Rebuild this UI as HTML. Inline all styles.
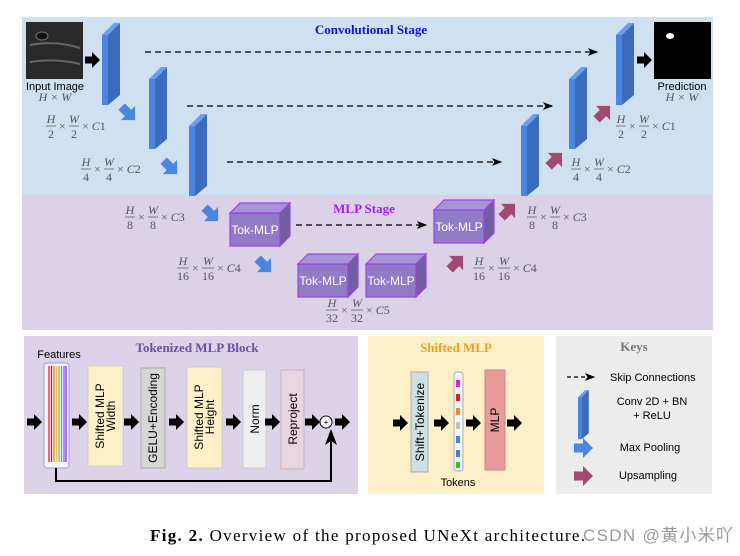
<!DOCTYPE html>
<html><head><meta charset="utf-8"><style>
body{margin:0;background:#fff}
svg{display:block}
.m{font-family:"Liberation Serif",serif;font-size:12px;fill:#555}
.i{font-style:italic}
.s{font-family:"Liberation Sans",sans-serif}
</style></head><body>
<svg width="740" height="556" viewBox="0 0 740 556" xmlns="http://www.w3.org/2000/svg">
<defs>
<g id="bar"><polygon points="0,12 6,12 6,82 0,82" fill="#4a86e0"/><polygon points="6,12 18,0 18,72 6,82" fill="#3b6bbb"/><polygon points="0,12 12,0 18,0 6,12" fill="#6a9ef0"/></g>
<polygon id="ar" points="-9,-4.5 0,-4.5 0,-10 10,0 0,10 0,4.5 -9,4.5"/>
<polygon id="ars" points="-7,-3.5 0,-3.5 0,-8 8,0 0,8 0,3.5 -7,3.5"/>
<g id="tok"><polygon points="0,10 50,10 50,43 0,43" fill="#8f7cc4" stroke="#a040f0" stroke-width="1.2"/><polygon points="50,10 60,0 60,33 50,43" fill="#6f5f9c" stroke="#a040f0" stroke-width="1.2"/><polygon points="0,10 10,0 60,0 50,10" fill="#a595d4" stroke="#a040f0" stroke-width="1.2"/><text x="25" y="31" font-size="12" fill="#fff" text-anchor="middle" class="s">Tok-MLP</text></g>
<marker id="mk" markerWidth="8" markerHeight="6" refX="7" refY="3" orient="auto"><path d="M0,0 L8,3 L0,6 L2,3z" fill="#000"/></marker>
</defs>
<rect x="22" y="17" width="691" height="178" fill="#cfe0f1"/>
<rect x="22" y="195" width="691" height="135" fill="#dbd2e8"/>
<text x="371" y="34" text-anchor="middle" font-family="Liberation Serif" font-weight="bold" font-size="13" fill="#1010e0">Convolutional Stage</text>
<text x="364" y="213" text-anchor="middle" font-family="Liberation Serif" font-weight="bold" font-size="13" fill="#a020f0">MLP Stage</text>
<rect x="26" y="22" width="57" height="57" fill="#2a2a2a"/>
<ellipse cx="42" cy="36" rx="6" ry="4" fill="#111" stroke="#777"/>
<path d="M30,45 Q55,40 80,48 M30,62 Q55,58 80,64" stroke="#666" stroke-width="2" fill="none"/>
<text x="55" y="90" text-anchor="middle" font-size="11" class="s">Input Image</text>
<text x="55" y="101" text-anchor="middle" class="m i">H × W</text>
<use href="#ars" x="92" y="60" fill="#000"/>
<rect x="654" y="22" width="57" height="57" fill="#000"/>
<ellipse cx="670" cy="36" rx="4" ry="3" fill="#fff"/>
<use href="#ars" x="644" y="60" fill="#000"/>
<text x="682" y="90" text-anchor="middle" font-size="11" class="s">Prediction</text>
<text x="682" y="101" text-anchor="middle" class="m i">H × W</text>
<use href="#bar" x="102" y="23"/><use href="#bar" x="149" y="67"/><use href="#bar" x="189" y="114"/>
<use href="#bar" x="521" y="114"/><use href="#bar" x="569" y="67"/><use href="#bar" x="616" y="23"/>
<g stroke="#000" stroke-width="1.3" stroke-dasharray="6,4" fill="none" marker-end="url(#mk)">
<line x1="145" y1="52" x2="597" y2="52"/><line x1="187" y1="106" x2="552" y2="106"/>
<line x1="227" y1="162" x2="501" y2="162"/><line x1="296" y1="225" x2="426" y2="225"/>
</g>
<use href="#tok" x="230" y="203"/><use href="#tok" x="298" y="254"/><use href="#tok" x="366" y="254"/><use href="#tok" x="434" y="200"/>
<g fill="#4a86e0">
<use href="#ar" transform="translate(128,113) rotate(45)"/><use href="#ar" transform="translate(170,167) rotate(45)"/>
<use href="#ar" transform="translate(211,214) rotate(45)"/><use href="#ar" transform="translate(264,265) rotate(45)"/>
</g>
<g fill="#a04a70">
<use href="#ar" transform="translate(603,113) rotate(-45)"/><use href="#ar" transform="translate(555,160) rotate(-45)"/>
<use href="#ar" transform="translate(508,211) rotate(-45)"/><use href="#ar" transform="translate(456,263) rotate(-45)"/>
</g>
<g class="m">
<g transform="translate(46,128)"><text x="5" y="-5" text-anchor="middle" class="i">H</text><line x1="0" x2="10" y1="-2" y2="-2" stroke="#555" stroke-width=".7"/><text x="5" y="10" text-anchor="middle">2</text><text x="13" y="2">×</text><text x="28" y="-5" text-anchor="middle" class="i">W</text><line x1="23" x2="33" y1="-2" y2="-2" stroke="#555" stroke-width=".7"/><text x="28" y="10" text-anchor="middle">2</text><text x="36" y="2">× <tspan class="i">C</tspan>1</text></g>
<g transform="translate(81,171)"><text x="5" y="-5" text-anchor="middle" class="i">H</text><line x1="0" x2="10" y1="-2" y2="-2" stroke="#555" stroke-width=".7"/><text x="5" y="10" text-anchor="middle">4</text><text x="13" y="2">×</text><text x="28" y="-5" text-anchor="middle" class="i">W</text><line x1="23" x2="33" y1="-2" y2="-2" stroke="#555" stroke-width=".7"/><text x="28" y="10" text-anchor="middle">4</text><text x="36" y="2">× <tspan class="i">C</tspan>2</text></g>
<g transform="translate(125,219)"><text x="5" y="-5" text-anchor="middle" class="i">H</text><line x1="0" x2="10" y1="-2" y2="-2" stroke="#555" stroke-width=".7"/><text x="5" y="10" text-anchor="middle">8</text><text x="13" y="2">×</text><text x="28" y="-5" text-anchor="middle" class="i">W</text><line x1="23" x2="33" y1="-2" y2="-2" stroke="#555" stroke-width=".7"/><text x="28" y="10" text-anchor="middle">8</text><text x="36" y="2">× <tspan class="i">C</tspan>3</text></g>
<g transform="translate(177,270)"><text x="6" y="-5" text-anchor="middle" class="i">H</text><line x1="0" x2="12" y1="-2" y2="-2" stroke="#555" stroke-width=".7"/><text x="6" y="10" text-anchor="middle">16</text><text x="15" y="2">×</text><text x="31" y="-5" text-anchor="middle" class="i">W</text><line x1="25" x2="37" y1="-2" y2="-2" stroke="#555" stroke-width=".7"/><text x="31" y="10" text-anchor="middle">16</text><text x="40" y="2">× <tspan class="i">C</tspan>4</text></g>
<g transform="translate(326,312)"><text x="6" y="-5" text-anchor="middle" class="i">H</text><line x1="0" x2="12" y1="-2" y2="-2" stroke="#555" stroke-width=".7"/><text x="6" y="10" text-anchor="middle">32</text><text x="15" y="2">×</text><text x="31" y="-5" text-anchor="middle" class="i">W</text><line x1="25" x2="37" y1="-2" y2="-2" stroke="#555" stroke-width=".7"/><text x="31" y="10" text-anchor="middle">32</text><text x="40" y="2">× <tspan class="i">C</tspan>5</text></g>
<g transform="translate(473,270)"><text x="6" y="-5" text-anchor="middle" class="i">H</text><line x1="0" x2="12" y1="-2" y2="-2" stroke="#555" stroke-width=".7"/><text x="6" y="10" text-anchor="middle">16</text><text x="15" y="2">×</text><text x="31" y="-5" text-anchor="middle" class="i">W</text><line x1="25" x2="37" y1="-2" y2="-2" stroke="#555" stroke-width=".7"/><text x="31" y="10" text-anchor="middle">16</text><text x="40" y="2">× <tspan class="i">C</tspan>4</text></g>
<g transform="translate(527,219)"><text x="5" y="-5" text-anchor="middle" class="i">H</text><line x1="0" x2="10" y1="-2" y2="-2" stroke="#555" stroke-width=".7"/><text x="5" y="10" text-anchor="middle">8</text><text x="13" y="2">×</text><text x="28" y="-5" text-anchor="middle" class="i">W</text><line x1="23" x2="33" y1="-2" y2="-2" stroke="#555" stroke-width=".7"/><text x="28" y="10" text-anchor="middle">8</text><text x="36" y="2">× <tspan class="i">C</tspan>3</text></g>
<g transform="translate(571,171)"><text x="5" y="-5" text-anchor="middle" class="i">H</text><line x1="0" x2="10" y1="-2" y2="-2" stroke="#555" stroke-width=".7"/><text x="5" y="10" text-anchor="middle">4</text><text x="13" y="2">×</text><text x="28" y="-5" text-anchor="middle" class="i">W</text><line x1="23" x2="33" y1="-2" y2="-2" stroke="#555" stroke-width=".7"/><text x="28" y="10" text-anchor="middle">4</text><text x="36" y="2">× <tspan class="i">C</tspan>2</text></g>
<g transform="translate(616,128)"><text x="5" y="-5" text-anchor="middle" class="i">H</text><line x1="0" x2="10" y1="-2" y2="-2" stroke="#555" stroke-width=".7"/><text x="5" y="10" text-anchor="middle">2</text><text x="13" y="2">×</text><text x="28" y="-5" text-anchor="middle" class="i">W</text><line x1="23" x2="33" y1="-2" y2="-2" stroke="#555" stroke-width=".7"/><text x="28" y="10" text-anchor="middle">2</text><text x="36" y="2">× <tspan class="i">C</tspan>1</text></g>
</g>
<rect x="24" y="336" width="334" height="158" fill="#dcd3e8"/>
<rect x="368" y="336" width="176" height="158" fill="#fdf0c8"/>
<rect x="556" y="336" width="156" height="158" fill="#ececec"/>
<text x="197" y="352" text-anchor="middle" font-family="Liberation Serif" font-weight="bold" font-size="13" fill="#6a50a8">Tokenized MLP Block</text>
<text x="456" y="352" text-anchor="middle" font-family="Liberation Serif" font-weight="bold" font-size="13" fill="#f0a020">Shifted MLP</text>
<text x="634" y="351" text-anchor="middle" font-family="Liberation Serif" font-weight="bold" font-size="13" fill="#777">Keys</text>
<text x="59" y="358" text-anchor="middle" font-size="11" class="s">Features</text>
<rect x="44" y="363" width="25" height="105" rx="3" fill="#f4f4fc" stroke="#9aa0e0"/>
<g stroke-width="1.3"><line x1="49" y1="366" x2="49" y2="462" stroke="#e02020"/><line x1="51.5" y1="366" x2="51.5" y2="462" stroke="#c02020"/><line x1="54" y1="366" x2="54" y2="462" stroke="#f08020"/><line x1="56.5" y1="366" x2="56.5" y2="462" stroke="#f0c040"/><line x1="59" y1="366" x2="59" y2="462" stroke="#80c080"/><line x1="61.5" y1="366" x2="61.5" y2="462" stroke="#60a0c0"/><line x1="64" y1="366" x2="64" y2="462" stroke="#8060e0"/><line x1="66" y1="366" x2="66" y2="462" stroke="#a020f0"/></g>
<rect x="88" y="366" width="35" height="100" fill="#fdf0c8" stroke="#ccc"/>
<rect x="141" y="368" width="24" height="100" fill="#d6d6d6" stroke="#aaa"/>
<rect x="187" y="367" width="35" height="101" fill="#fdf0c8" stroke="#ccc"/>
<rect x="243" y="370" width="23" height="98" fill="#eeeeee" stroke="#ccc"/>
<rect x="281" y="370" width="23" height="99" fill="#e8d5e0" stroke="#c8b0c0"/>
<rect x="411" y="372" width="17" height="100" fill="#cfe0e3" stroke="#aaa"/>
<rect x="454" y="372" width="9" height="99" rx="3" fill="#f4f4fc" stroke="#aab"/>
<g><rect x="456" y="380" width="4" height="7" fill="#e020e0"/><rect x="456" y="394" width="4" height="7" fill="#e02020"/><rect x="456" y="408" width="4" height="7" fill="#f09020"/><rect x="456" y="422" width="4" height="7" fill="#b0d0a0"/><rect x="456" y="436" width="4" height="7" fill="#4a80d0"/><rect x="456" y="450" width="4" height="7" fill="#4a80c0"/><rect x="456" y="462" width="4" height="6" fill="#20d020"/></g>
<rect x="485" y="370" width="20" height="100" fill="#e8999a" stroke="#c88"/>
<g font-size="12" class="s" text-anchor="middle">
<text transform="translate(104,416) rotate(-90)">Shifted MLP</text><text transform="translate(115,416) rotate(-90)">Width</text>
<text transform="translate(157,418) rotate(-90)">GELU+Encoding</text>
<text transform="translate(203,417) rotate(-90)">Shifted MLP</text><text transform="translate(214,417) rotate(-90)">Height</text>
<text transform="translate(259,419) rotate(-90)">Norm</text>
<text transform="translate(297,419) rotate(-90)">Reproject</text>
<text transform="translate(424,422) rotate(-90)">Shift+Tokenize</text>
<text transform="translate(499,420) rotate(-90)">MLP</text>
</g>
<g fill="#000">
<use href="#ars" x="34" y="422"/><use href="#ars" x="79" y="422"/><use href="#ars" x="131" y="422"/><use href="#ars" x="176" y="422"/><use href="#ars" x="233" y="422"/><use href="#ars" x="272" y="422"/><use href="#ars" x="312" y="422"/><use href="#ars" x="342" y="422"/>
<use href="#ars" x="400" y="423"/><use href="#ars" x="441" y="423"/><use href="#ars" x="473" y="423"/><use href="#ars" x="514" y="423"/>
</g>
<circle cx="326" cy="422" r="6" fill="#fff" stroke="#000"/>
<text x="326" y="425.5" text-anchor="middle" font-size="9" class="s">+</text>
<path d="M56,468 V481 H331 V431" fill="none" stroke="#000" stroke-width="2" marker-end="url(#mk)"/>
<text x="458" y="486" text-anchor="middle" font-size="11" class="s">Tokens</text>
<line x1="567" y1="377" x2="594" y2="377" stroke="#000" stroke-width="1.3" stroke-dasharray="4,3" marker-end="url(#mk)"/>
<g font-size="11" class="s"><text x="610" y="381">Skip Connections</text>
<text x="652" y="405" text-anchor="middle">Conv 2D + BN</text><text x="652" y="419" text-anchor="middle">+ ReLU</text>
<text x="650" y="451" text-anchor="middle">Max Pooling</text><text x="648" y="479" text-anchor="middle">Upsampling</text></g>
<g transform="translate(578,390) scale(0.6)"><use href="#bar"/></g>
<use href="#ar" x="583" y="448" fill="#4a86e0"/>
<use href="#ar" x="583" y="476" fill="#a04a70"/>
<text x="150" y="541" font-family="Liberation Serif" font-size="17" textLength="435" lengthAdjust="spacing"><tspan font-weight="bold">Fig. 2.</tspan> Overview of the proposed UNeXt architecture.</text>
<text x="583" y="541" font-family="Liberation Sans, Noto Sans CJK SC, sans-serif" font-size="17" fill="#999" textLength="150">CSDN @黄小米吖</text>
</svg>
</body></html>
